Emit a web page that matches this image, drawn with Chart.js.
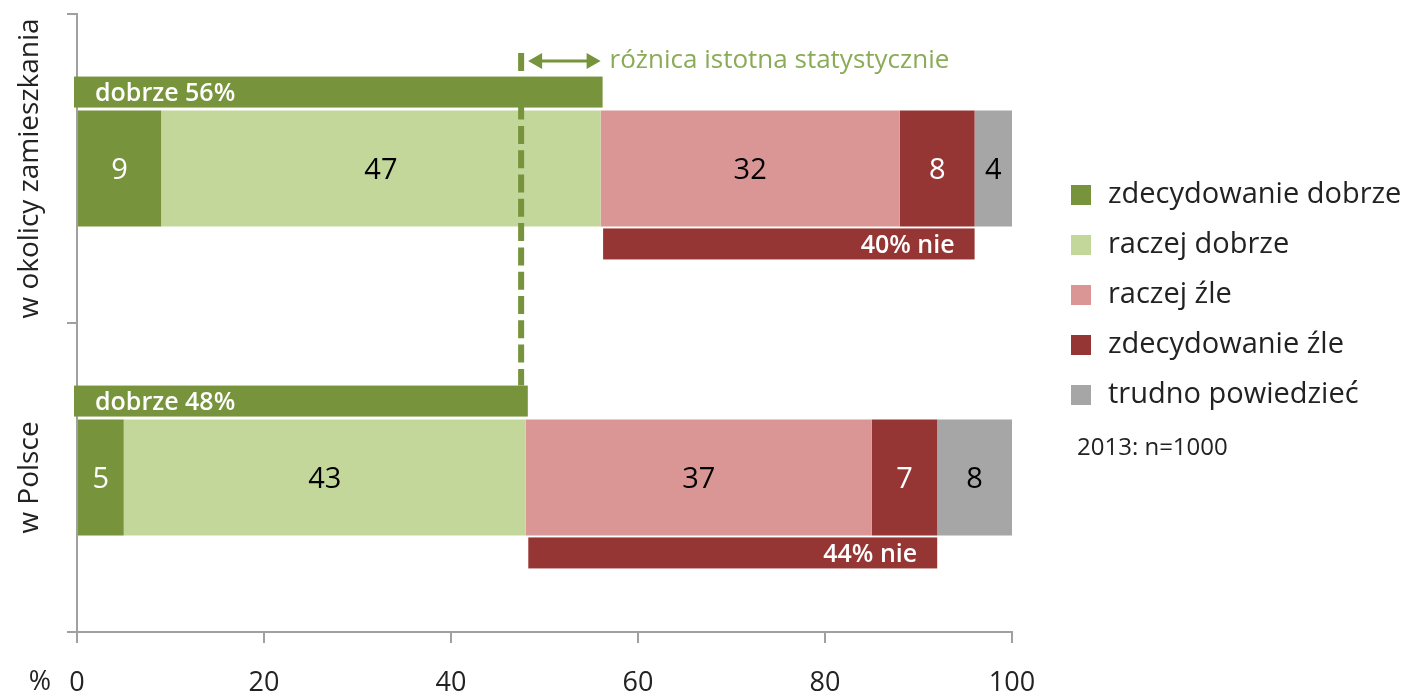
<!DOCTYPE html>
<html>
<head>
<meta charset="utf-8">
<script src="https://cdn.jsdelivr.net/npm/chart.js@4.4.0/dist/chart.umd.min.js"></script>
<style>
  html, body { margin: 0; padding: 0; background: #fff; }
  #wrap { width: 1408px; height: 694px; }
</style>
</head>
<body>
<div id="wrap"><canvas id="chart" width="1408" height="694"></canvas></div>
<script>
// ---- dane ----
const categories = ['w okolicy zamieszkania', 'w Polsce'];
const seriesNames = ['zdecydowanie dobrze', 'raczej dobrze', 'raczej źle', 'zdecydowanie źle', 'trudno powiedzieć'];
const zdecDobrze = [9, 5];
const raczejDobrze = [47, 43];
const raczejZle = [32, 37];
const zdecZle = [8, 7];
const trudno = [4, 8];
const dobrzeTotal = [56, 48];
const nieTotal = [40, 44];
const xTicks = [0, 20, 40, 60, 80, 100];
const diffMark = 47.5;
const diffNote = 'różnica istotna statystycznie';
const sampleNote = '2013: n=1000';

const FONT = '"Open Sans", "Noto Sans", sans-serif';
const colors = ['#77933c', '#c4d79b', '#da9694', '#963634', '#a6a6a6'];
const labelColors = ['#ffffff', '#000000', '#000000', '#ffffff', '#000000'];
const GREEN_TXT = '#8aab57';
const AXIS = '#a0a0a0';

const seriesData = [zdecDobrze, raczejDobrze, raczejZle, zdecZle, trudno];

// -------- rysowanie dodatków --------
const overlay = {
  id: 'overlay',
  afterDatasetsDraw(chart) {
    const ctx = chart.ctx;
    const x = chart.scales.x;

    // etykiety w segmentach
    ctx.save();
    ctx.font = `29px ${FONT}`;
    ctx.textAlign = 'center';
    ctx.textBaseline = 'middle';
    chart.data.datasets.forEach((ds, di) => {
      const meta = chart.getDatasetMeta(di);
      meta.data.forEach((el, i) => {
        ctx.fillStyle = labelColors[di];
        ctx.fillText(String(ds.data[i]), (el.x + el.base) / 2, el.y + 2);
      });
    });
    ctx.restore();

    const bars = chart.getDatasetMeta(0).data;

    // linia przerywana + strzalka
    const lx = x.getPixelForValue(diffMark);
    const arrowY = 61;
    ctx.save();
    ctx.strokeStyle = colors[0];
    ctx.lineWidth = 6;
    ctx.setLineDash([18, 6.3]);
    ctx.beginPath();
    ctx.moveTo(lx, 53);
    ctx.lineTo(lx, bars[1].y - bars[1].height / 2 - 34);
    ctx.stroke();
    ctx.setLineDash([]);

    const ax0 = lx + 7, ax1 = x.getPixelForValue(dobrzeTotal[0]);
    ctx.lineWidth = 3;
    ctx.beginPath();
    ctx.moveTo(ax0 + 8, arrowY);
    ctx.lineTo(ax1 - 8, arrowY);
    ctx.stroke();
    ctx.fillStyle = colors[0];
    ctx.beginPath();
    ctx.moveTo(ax0, arrowY); ctx.lineTo(ax0 + 14, arrowY - 8); ctx.lineTo(ax0 + 14, arrowY + 8); ctx.closePath();
    ctx.fill();
    ctx.beginPath();
    ctx.moveTo(ax1, arrowY); ctx.lineTo(ax1 - 14, arrowY - 8); ctx.lineTo(ax1 - 14, arrowY + 8); ctx.closePath();
    ctx.fill();

    ctx.fillStyle = GREEN_TXT;
    ctx.font = `26px ${FONT}`;
    ctx.textAlign = 'left';
    ctx.textBaseline = 'middle';
    ctx.fillText(diffNote, ax1 + 9, arrowY);
    ctx.restore();

    // paski podsumowania
    ctx.save();
    bars.forEach((el, i) => {
      const top = el.y - el.height / 2;
      const bot = el.y + el.height / 2;
      const x0 = x.getPixelForValue(0);
      const xg = x.getPixelForValue(dobrzeTotal[i]);
      const xn = x.getPixelForValue(dobrzeTotal[i] + nieTotal[i]);

      ctx.fillStyle = colors[0];
      ctx.fillRect(x0 - 3, top - 34, xg + 2 - (x0 - 3), 31);
      ctx.fillStyle = colors[3];
      ctx.fillRect(xg + 2.5, bot + 2, xn - (xg + 2.5), 31);

      ctx.fillStyle = '#ffffff';
      ctx.font = `600 25px ${FONT}`;
      ctx.textBaseline = 'middle';
      ctx.textAlign = 'left';
      ctx.fillText(`dobrze ${dobrzeTotal[i]}%`, x0 + 18, top - 17);
      ctx.textAlign = 'right';
      ctx.fillText(`${nieTotal[i]}% nie`, xn - 20, bot + 19);
    });
    ctx.restore();

    // etykiety kategorii (pionowo)
    ctx.save();
    ctx.fillStyle = '#222';
    ctx.font = `28px ${FONT}`;
    ctx.textAlign = 'center';
    ctx.textBaseline = 'alphabetic';
    categories.forEach((c, i) => {
      const cy = chart.scales.y.getPixelForValue(i);
      ctx.save();
      ctx.translate(38, cy);
      ctx.rotate(-Math.PI / 2);
      ctx.fillText(c, 0, 0);
      ctx.restore();
    });

    // znak %
    ctx.font = `27px ${FONT}`;
    ctx.textAlign = 'center';
    ctx.textBaseline = 'middle';
    ctx.fillStyle = '#222';
    ctx.fillText('%', 40, 682);
    ctx.restore();

    // legenda
    ctx.save();
    ctx.font = `29px ${FONT}`;
    ctx.textBaseline = 'middle';
    ctx.textAlign = 'left';
    seriesNames.forEach((name, i) => {
      const cy = 195 + i * 50;
      ctx.fillStyle = colors[i];
      ctx.fillRect(1071, cy - 10, 20, 20);
      ctx.fillStyle = '#222';
      ctx.fillText(name, 1108, cy);
    });
    ctx.font = `24px ${FONT}`;
    ctx.fillText(sampleNote, 1077, 448);
    ctx.restore();
  }
};

new Chart(document.getElementById('chart'), {
  type: 'bar',
  data: {
    labels: categories,
    datasets: seriesData.map((d, i) => ({
      label: seriesNames[i],
      data: d,
      backgroundColor: colors[i],
      borderWidth: 0,
      barPercentage: 0.375,
      categoryPercentage: 1
    }))
  },
  options: {
    indexAxis: 'y',
    responsive: false,
    animation: false,
    layout: { padding: { left: 0, right: 1408 - 1012, top: 14, bottom: 0 } },
    plugins: { legend: { display: false }, tooltip: { enabled: false } },
    scales: {
      x: {
        stacked: true,
        min: 0, max: 100,
        afterBuildTicks: s => { s.ticks = xTicks.map(v => ({ value: v })); },
        afterFit: s => { s.height = 62; },
        grid: { drawOnChartArea: false, drawTicks: true, tickLength: 11, color: AXIS, lineWidth: 2 },
        border: { color: AXIS, width: 2 },
        ticks: { color: '#222', font: { family: FONT, size: 27 }, padding: 24, maxRotation: 0 }
      },
      y: {
        stacked: true,
        afterFit: s => { s.width = 77; },
        grid: { drawOnChartArea: false, drawTicks: true, tickLength: 10, color: AXIS, lineWidth: 2, offset: true },
        border: { color: AXIS, width: 2 },
        ticks: { display: false }
      }
    }
  },
  plugins: [overlay]
});
</script>
</body>
</html>
